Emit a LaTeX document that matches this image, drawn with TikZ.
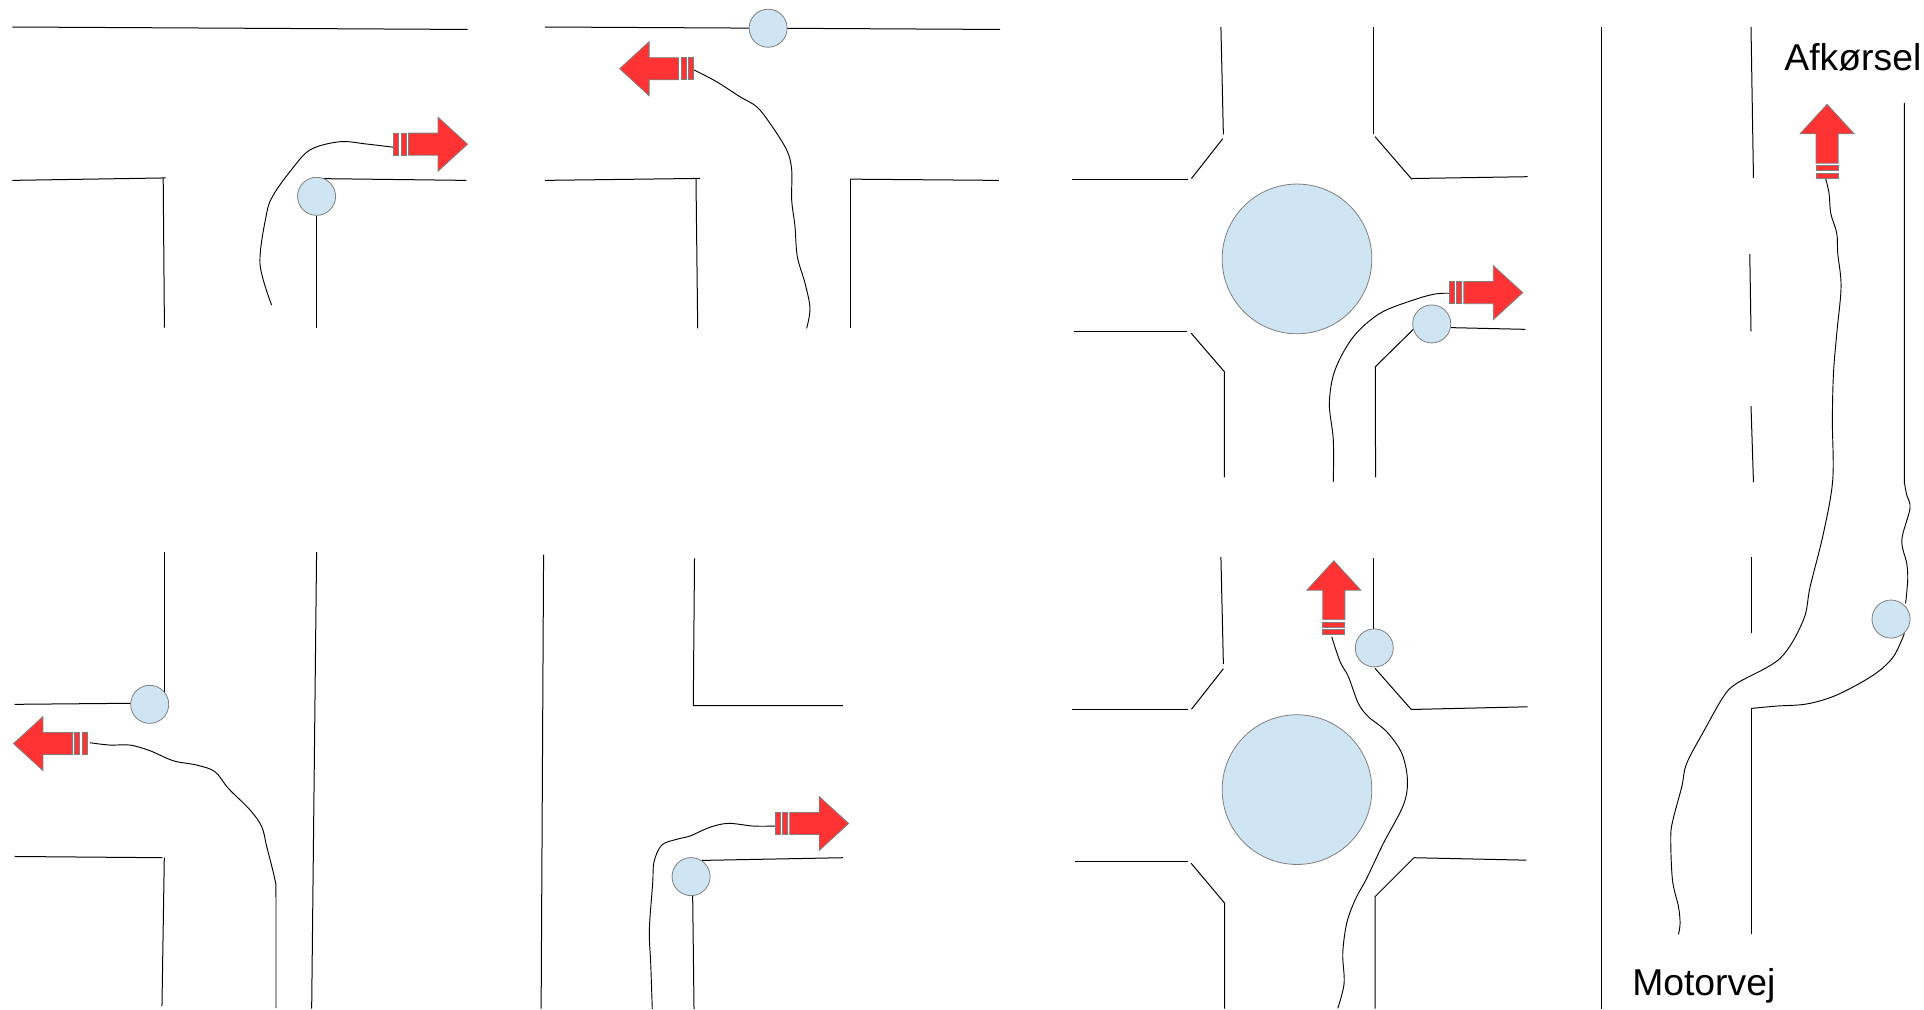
\documentclass[tikz,border=0pt]{standalone}
\usepackage{fontspec}
\setmainfont{Liberation Sans}
\definecolor{disc}{HTML}{CFE5F3}
\definecolor{edge}{HTML}{7F7F7F}
\definecolor{redarrow}{HTML}{FF3333}
\tikzset{
  road/.style={black,line width=0.75pt},
  track/.style={black,line width=0.7pt,smooth,tension=0.55},
  disc/.style={fill=disc,draw=edge,line width=0.6pt},
  bar/.style={fill=redarrow,draw=edge,line width=0.6pt},
  lbl/.style={font=\fontsize{28}{32}\selectfont,inner sep=0pt,anchor=base west}
}
\newcommand{\redarrow}[3]{%
  \begin{scope}[shift={(#1,#2)},rotate=#3]
    \draw[bar] (0,-9) rectangle (4,9);
    \draw[bar] (6,-9) rectangle (10,9);
    \draw[bar] (12,-9) -- (36,-9) -- (36,-22) -- (60,0) -- (36,22) -- (36,9) -- (12,9) -- cycle;
  \end{scope}}
\begin{document}
\begin{tikzpicture}[x=0.9203pt,y=-0.9203pt]
\useasboundingbox (0,0) rectangle (1568,822.3);
% panel 1
\draw[road] (10,22)--(381,24);
\draw[road] (10,147)--(135,145);
\draw[road] (133,145)--(134,267);
\draw[road] (256,145.5)--(380,147);
\draw[road] (258,176)--(258,267);
\draw[track] plot coordinates {(221.4,248.6) (211.9,214.6) (217.3,173.9) (222.8,158.9) (236.3,139.9) (252.6,122.2) (277,115.5) (298.9,117.4) (320.6,120)};
\draw[disc] (258,160) circle (15.5);
\redarrow{321}{117.5}{0}
% panel 2
\draw[road] (444,22)--(815,24);
\draw[road] (444,147)--(570.5,145.4);
\draw[road] (567.2,145.4)--(568.6,267.6);
\draw[road] (693,146)--(814,147);
\draw[road] (693,146)--(693,267.6);
\draw[track] plot coordinates {(565.6,57) (584,66.6) (603,78.8) (616.7,87) (627.5,100.5) (641.1,122.2) (645.2,138.5) (645.2,163) (647.9,184.7) (649.8,209.2) (656.1,230.9) (660.1,251.3) (657.4,267.6)};
\draw[disc] (626,23) circle (15.5);
\redarrow{565}{56}{180}
% panel 3
\draw[road] (995,22)--(997,109.5);
\draw[road] (996.5,113)--(971,145.5);
\draw[road] (874,146)--(968,146);
\draw[road] (1119,22)--(1119,109.5);
\draw[road] (1120.6,111.4)--(1150.5,146);
\draw[road] (1150,145.5)--(1245,144);
\draw[road] (875.6,269.8)--(967.7,269.8);
\draw[road] (970.7,271.5)--(997.8,302.9)--(997.8,389);
\draw[road] (1121,389)--(1120.9,298.8)--(1151.8,268.4);
\draw[road] (1182,267)--(1243.2,268.4);
\draw[track] plot coordinates {(1086.6,392.6) (1086.6,358.6) (1083.4,328.7) (1088,301.5) (1103,274.4) (1124.7,255.3) (1151.8,244.5) (1169.5,239.6) (1181,239)};
\draw[disc] (1057,211) circle (61);
\draw[disc] (1166.8,264) circle (15.5);
\redarrow{1181}{238.5}{0}
% panel 4
\draw[road] (12,574)--(122,573);
\draw[road] (134,450)--(134,574);
\draw[road] (12,698)--(132.3,699);
\draw[road] (133.9,699)--(132,820);
\draw[road] (258,450)--(254,822);
\draw[track] plot coordinates {(73.3,605.3) (89.6,607.2) (106,607.2) (122.2,611.8) (141.3,620) (160.3,623.5) (175.2,628.9) (186.1,642.5) (203.8,660.1) (213.3,673.7) (217.4,690) (224.1,717.2) (224.9,730.8) (224.9,821.5)};
\draw[disc] (122,574) circle (15.5);
\redarrow{71}{606}{180}
% panel 5
\draw[road] (443,452)--(441,822);
\draw[road] (566,455)--(565,575)--(687,575);
\draw[road] (571.9,701.2)--(687,699);
\draw[road] (564.5,730)--(565.6,822.3);
\draw[track] plot coordinates {(531.6,822.3) (530.3,785) (529.2,758) (531.9,719.9) (533,702.3) (539.3,688.7) (551.5,684) (562.3,681.3) (578.6,674.2) (593.6,671) (613.9,673.2) (631.6,673.2)};
\draw[disc] (563.2,714.4) circle (15.5);
\redarrow{631.6}{671.1}{0}
% panel 6
\draw[road] (995,454)--(997,541);
\draw[road] (997,545)--(971,578);
\draw[road] (874,578)--(968,578);
\draw[road] (1119,455)--(1119,513.4);
\draw[road] (1120.6,544.7)--(1150.5,578.6);
\draw[road] (1150,578.2)--(1245,576);
\draw[road] (876,702)--(968,702);
\draw[road] (970.7,703.5)--(998,736)--(998,822);
\draw[road] (1120.6,822)--(1120.6,730.8)--(1152.4,699)--(1244,701);
\draw[track] plot coordinates {(1085.3,518.9) (1092.1,539.2) (1098.9,551.5) (1107,573.2) (1115.2,584.1) (1130.1,596.3) (1142.4,613.9) (1147,635.7) (1143.7,656.1) (1127.4,687.3) (1113.8,715.8) (1104.3,733.5) (1097.5,752.5) (1094.3,776.9) (1095.4,801.4) (1090.2,821.8)};
\draw[disc] (1057,643.5) circle (61);
\draw[disc] (1120,528) circle (15.5);
\redarrow{1087}{517}{90}
% panel 7
\draw[road] (1305,22)--(1305,822);
\draw[road] (1427,22)--(1429,145);
\draw[road] (1426,207)--(1427,270);
\draw[road] (1427,331)--(1429,393);
\draw[road] (1427.6,454.2)--(1427.6,516.2);
\draw[road] (1427.6,761.4)--(1427.6,577.3);
\draw[track] plot coordinates {(1427.6,577.3) (1448,575.4) (1472.4,573.7) (1496.9,566.4) (1526.8,550.1) (1543,535.2) (1552,516.2)};
\draw[track] plot coordinates {(1552,84) (1552,366.7) (1552,391.2) (1553.9,403.4) (1556.6,414.3) (1549.9,440) (1553.9,459.1) (1554.7,472.7) (1553,491.7)};
\draw[track] plot coordinates {(1487.4,144) (1490.6,157.5) (1492,173.9) (1496.9,190.2) (1497.7,206.4) (1500.4,233.6) (1496.9,271.6) (1494.2,304.3) (1493.3,342.3) (1493.6,391.2) (1486,434.7) (1475.2,478.1) (1469.7,505.3) (1450.7,536.5) (1415.4,556.9) (1404.5,567.8) (1389,595) (1374.6,622.1) (1370.6,641.1) (1363.7,666.9) (1361.6,681.9) (1363,717.2) (1367.9,738.9) (1369.2,752.5) (1367.9,761.4)};
\draw[disc] (1541.1,504.5) circle (15.5);
\redarrow{1489}{145}{90}
\node[lbl] (afk) at (1454,57.5) {Afkørsel};
\node[lbl] (mot) at (1330,811.5) {Motorvej};
\end{tikzpicture}
\end{document}
